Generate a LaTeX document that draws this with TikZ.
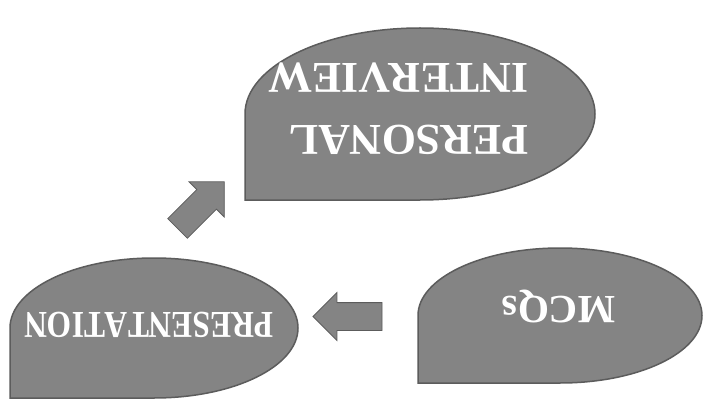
\documentclass[tikz,border=0pt]{standalone}
\usepackage{fontspec}
\setmainfont{Liberation Serif}
\usetikzlibrary{shapes.arrows}
\definecolor{shapefill}{RGB}{132,132,132}
\definecolor{shapeline}{RGB}{92,92,92}
\begin{document}
\begin{tikzpicture}[x=1pt,y=-1pt,
  tear/.style={fill=shapefill,draw=shapeline,line width=1.5pt},
  lbl/.style={text=white,font=\bfseries,rotate=180,inner sep=0pt,text depth=0pt},
  blockarrow/.style={single arrow,fill=shapefill,draw=shapeline,line width=0.8pt,
    inner xsep=0pt,inner ysep=13.5pt,single arrow head extend=10pt,
    single arrow tip angle=90,minimum height=69pt}]
\useasboundingbox[fill=white] (0,0) rectangle (704,401);
% Personal interview
\draw[tear] (245,200) -- (420,200) .. controls (516.7,200) and (595,161.5) .. (595,114)
  .. controls (595,66.5) and (516.7,28) .. (420,28)
  .. controls (323.3,28) and (245,66.5) .. (245,114) -- cycle;
\node[lbl,align=left,font=\bfseries\fontsize{44}{62}\selectfont] (pi) at (398.5,109) {PERSONAL\\INTERVIEW};
% Presentation
\draw[tear] (10,398) -- (154,398) .. controls (233.5,398) and (298,366.7) .. (298,328)
  .. controls (298,289.3) and (233.5,258) .. (154,258)
  .. controls (74.5,258) and (10,289.3) .. (10,328) -- cycle;
\node[lbl,font=\bfseries\fontsize{38}{40}\selectfont\addfontfeature{FakeStretch=0.83,Kerning=Off}] (pr) at (149,325) {PRESENTATION};
% MCQs
\draw[tear] (418,383) -- (560,383) .. controls (638.4,383) and (702,352.8) .. (702,315.5)
  .. controls (702,278.2) and (638.4,248) .. (560,248)
  .. controls (481.6,248) and (418,278.2) .. (418,315.5) -- cycle;
\node[lbl,font=\bfseries\fontsize{40}{42}\selectfont] (mc) at (559,310) {MCQs};
% arrows
\node[blockarrow,rotate=180] (a1) at (354.5,316.5) {};
\node[blockarrow,rotate=45,single arrow head extend=11pt,minimum height=66pt] (a2) at (196,210) {};
\end{tikzpicture}
\end{document}
